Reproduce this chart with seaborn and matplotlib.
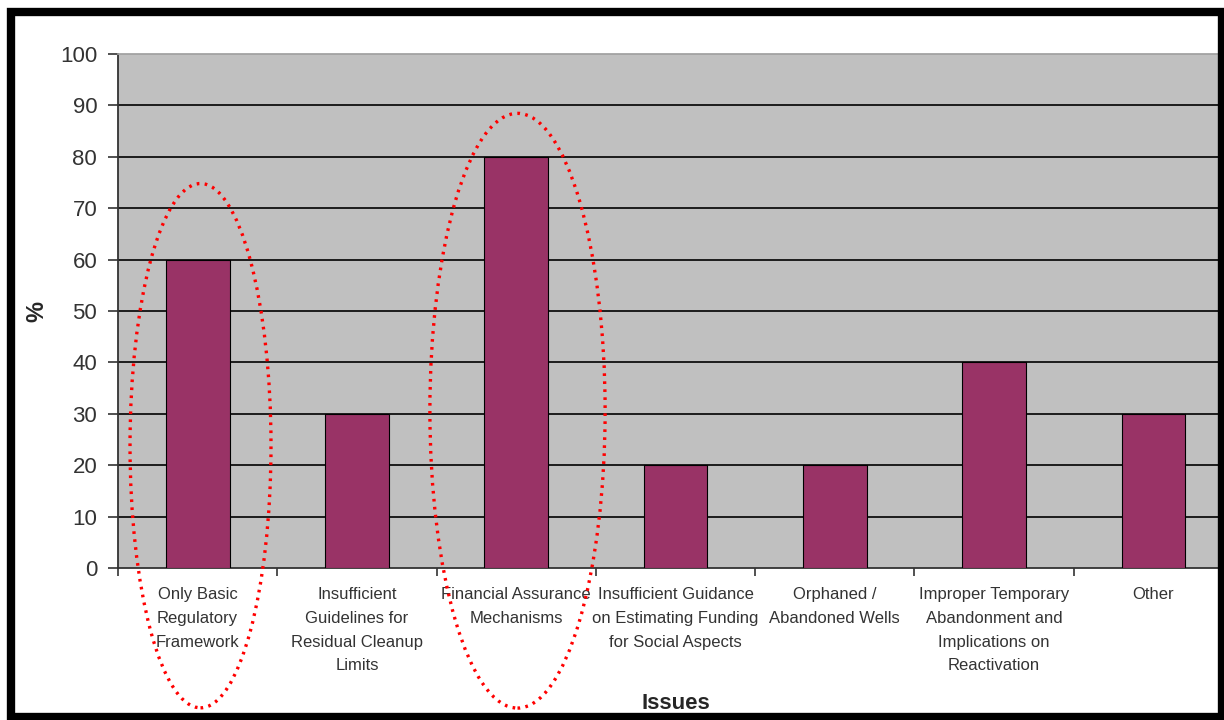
import matplotlib
matplotlib.use("Agg")
import matplotlib.pyplot as plt
import seaborn as sns
import pandas as pd
import numpy as np
from matplotlib.patches import Ellipse, Rectangle

issues = [
    "Only Basic\nRegulatory\nFramework",
    "Insufficient\nGuidelines for\nResidual Cleanup\nLimits",
    "Financial Assurance\nMechanisms",
    "Insufficient Guidance\non Estimating Funding\nfor Social Aspects",
    "Orphaned /\nAbandoned Wells",
    "Improper Temporary\nAbandonment and\nImplications on\nReactivation",
    "Other",
]
percent = [60, 30, 80, 20, 20, 40, 30]
y_ticks = list(range(0, 101, 10))

df = pd.DataFrame({"Issues": issues, "Percent": percent})

sns.set_theme(style="white")
plt.rcParams['font.family'] = ['Liberation Sans', 'DejaVu Sans']

fig = plt.figure(figsize=(12.24, 7.2), dpi=100)
# the plot area runs on under the right border, as in the source picture
ax = fig.add_axes([0.0964, 0.2111, 0.911, 0.7139])
ax.set_facecolor("#C0C0C0")

sns.barplot(data=df, x="Issues", y="Percent", color="#993366", saturation=1,
            width=0.4, edgecolor="black", linewidth=0.8, ax=ax, zorder=3)

ax.set_ylim(0, 100)
ax.set_xlim(-0.5, len(issues) - 0.5)
ax.set_yticks(y_ticks)
ax.set_yticklabels([str(t) for t in y_ticks], fontsize=16, color="#333333")
for t in y_ticks[1:-1]:
    ax.axhline(t, color="black", lw=1.2, zorder=1)

# category labels centred, tick marks at the category boundaries
ax.set_xticks(range(len(issues)))
ax.set_xticklabels(issues, fontsize=12, linespacing=1.72, color="#333333")
ax.set_xticks(np.arange(-0.5, len(issues), 1), minor=True)
ax.tick_params(axis="x", which="major", length=0, pad=14)
ax.tick_params(axis="x", which="minor", length=6, width=1.2, color="#333333", direction="out", bottom=True)
ax.tick_params(axis="y", length=7, width=1.2, color="#333333", direction="out", left=True, pad=8)

for side in ["left", "bottom"]:
    ax.spines[side].set_color("#333333")
    ax.spines[side].set_linewidth(1.3)
ax.spines["top"].set_color("#A0A0A0")
ax.spines["right"].set_visible(False)

ax.set_ylabel("%", fontsize=17, fontweight="bold")
ax.yaxis.set_label_coords(-0.062, 0.5)
ax.set_xlabel("Issues", fontsize=16, fontweight="bold")
ax.xaxis.set_label_coords(0.5, -0.243)

# red dotted rings around the highlighted issues
for cx, cy, w, h in [(0.018, 23.8, 0.885, 102), (2.008, 30.6, 1.1, 115.7)]:
    ax.add_patch(Ellipse((cx, cy), w, h, fill=False, edgecolor="red",
                         lw=2.4, linestyle=(0, (0.8, 1.6)), clip_on=False, zorder=5))

fig.patches.append(Rectangle((0.009, 0.004), 0.989, 0.98, transform=fig.transFigure,
                             fill=False, edgecolor="black", lw=6, zorder=10))

plt.savefig("out.png", dpi=100)
